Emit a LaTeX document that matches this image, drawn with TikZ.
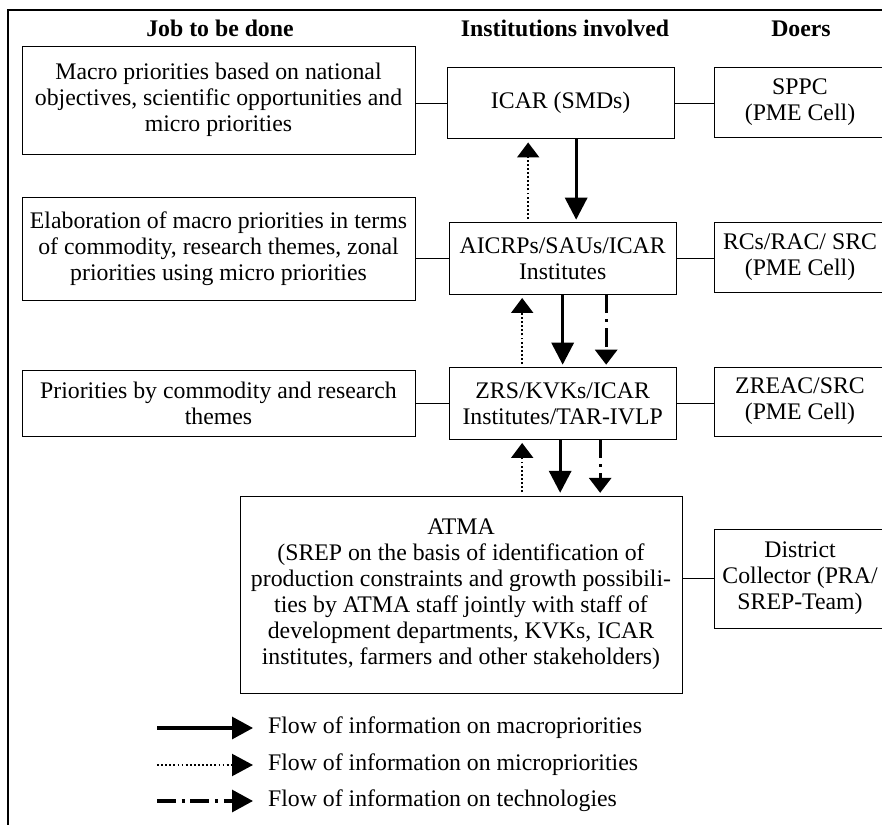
\documentclass[tikz,border=0pt]{standalone}
\usepackage{fontspec}
\setmainfont{Liberation Serif}
\usetikzlibrary{arrows.meta}
\tikzstyle{job} = [rectangle, align=center, draw=black, line width=0.8pt, minimum width=11.79cm]
\tikzstyle{inst} = [rectangle, align=center, draw=black, line width=0.8pt, minimum width=6.81cm, minimum height=2.14cm]
\tikzstyle{doer} = [rectangle, align=center, draw=black, line width=0.8pt, minimum width=5.16cm, minimum height=2.1cm]
\tikzstyle{link} = [line width=0.8pt]
\tikzstyle{macro} = [line width=2.7pt, -{Triangle[width=0.66cm, length=0.66cm]}]
\tikzstyle{micro} = [line width=1.8pt, dash pattern=on 1.6pt off 1.9pt, -{Triangle[width=0.66cm, length=0.45cm]}]
\tikzstyle{tech} = [line width=2.7pt, dash pattern=on 16pt off 5pt on 2.5pt off 5pt, -{Triangle[width=0.66cm, length=0.45cm]}]
\tikzstyle{lgtip} = [-{Triangle[width=0.66cm, length=0.63cm]}]

\begin{document}
\begin{tikzpicture}[font=\fontsize{20.3}{22.2}\selectfont]
	\useasboundingbox (0,0) rectangle (26.46,-24.75);
	\clip (0,0) rectangle (26.46,-24.75);
	\draw[line width=2.5pt] (0.24,-26) -- (0.24,-0.3) -- (27,-0.3);

	\node at (6.6,-0.86) (hjob) {\textbf{Job to be done}};
	\node at (16.95,-0.86) (hinst) {\textbf{Institutions involved}};
	\node at (24.03,-0.86) (hdoer) {\textbf{Doers}};

	\node[inst] at (16.82,-3.09) (icar) {ICAR (SMDs)};
	\node[inst] at ([xshift=0.06cm, yshift=-4.665cm]icar) (aicrp) {AICRPs/SAUs/ICAR\\Institutes};
	\node[inst] at ([yshift=-4.35cm]aicrp) (zrs) {ZRS/KVKs/ICAR\\Institutes/TAR-IVLP};
	\node[job, minimum height=3.24cm] at ([xshift=-10.265cm, yshift=0.09cm]icar) (job1) {Macro priorities based on national\\objectives, scientific opportunities and\\micro priorities};
	\node[job, minimum height=3.09cm] at ([xshift=-10.325cm, yshift=0.3cm]aicrp) (job2) {Elaboration of macro priorities in terms\\of commodity, research themes, zonal\\priorities using micro priorities};
	\node[job, minimum height=1.98cm] at ([xshift=-10.325cm]zrs) (job3) {Priorities by commodity and research\\themes};
	\node[doer] at ([xshift=7.18cm, yshift=0.03cm]icar) (sppc) {SPPC\\(PME Cell)};
	\node[doer] at ([xshift=7.12cm, yshift=0.045cm]aicrp) (rcs) {RCs/RAC/ SRC\\(PME Cell)};
	\node[doer, minimum height=2.07cm] at ([xshift=7.12cm, yshift=0.06cm]zrs) (zreac) {ZREAC/SRC\\(PME Cell)};
	\node[rectangle, align=center, draw=black, line width=0.8pt, minimum width=13.26cm, minimum height=5.91cm] at ([xshift=-3.05cm, yshift=-5.73cm]zrs) (atma) {ATMA\\(SREP on the basis of identification of\\production constraints and growth possibili-\\ties by ATMA staff jointly with staff of\\development departments, KVKs, ICAR\\institutes, farmers and other stakeholders)};
	\node[doer, minimum height=2.97cm] at ([xshift=10.17cm, yshift=0.48cm]atma) (dc) {District\\Collector (PRA/\\SREP-Team)};

	\foreach \a\b in {job1/icar, job2/aicrp, job3/zrs}{
		\draw[link] (\a.east |- \b.west) -- (\b.west);
	}
	\foreach \a\b in {icar/sppc, aicrp/rcs, zrs/zreac}{
		\draw[link] (\a.east) -- (\a.east -| \b.west);
	}
	\draw[link] (dc.west) -- (dc.west -| atma.east);

	\foreach \a/\b/\s/\m in {icar/aicrp/0.465/-0.975, aicrp/zrs/0/-1.215, zrs/atma/-0.075/-1.215}{
		\draw[macro, shorten >=0.08cm] ([xshift=\s cm]\a.south) -- ([xshift=\s cm]\a.south |- \b.north);
		\draw[micro, shorten <=0.1cm, shorten >=0.1cm] ([xshift=\m cm]\a.south |- \b.north) -- ([xshift=\m cm]\a.south);
	}
	\foreach \a/\b/\t in {aicrp/zrs/1.305, zrs/atma/1.125}{
		\draw[tech, shorten >=0.08cm] ([xshift=\t cm]\a.south) -- ([xshift=\t cm]\a.south |- \b.north);
	}

	\node[anchor=west] at (7.92,-21.84) (lgmacro) {Flow of information on macropriorities};
	\node[anchor=west] at (7.92,-22.95) (lgmicro) {Flow of information on micropriorities};
	\node[anchor=west] at (7.92,-24.03) (lgtech) {Flow of information on technologies};
	\foreach \a in {macro, micro, tech}{
		\draw[\a, lgtip, shorten >=0.33cm] ([xshift=-3.21cm]lg\a.west) -- (lg\a.west);
	}
\end{tikzpicture}
\end{document}
